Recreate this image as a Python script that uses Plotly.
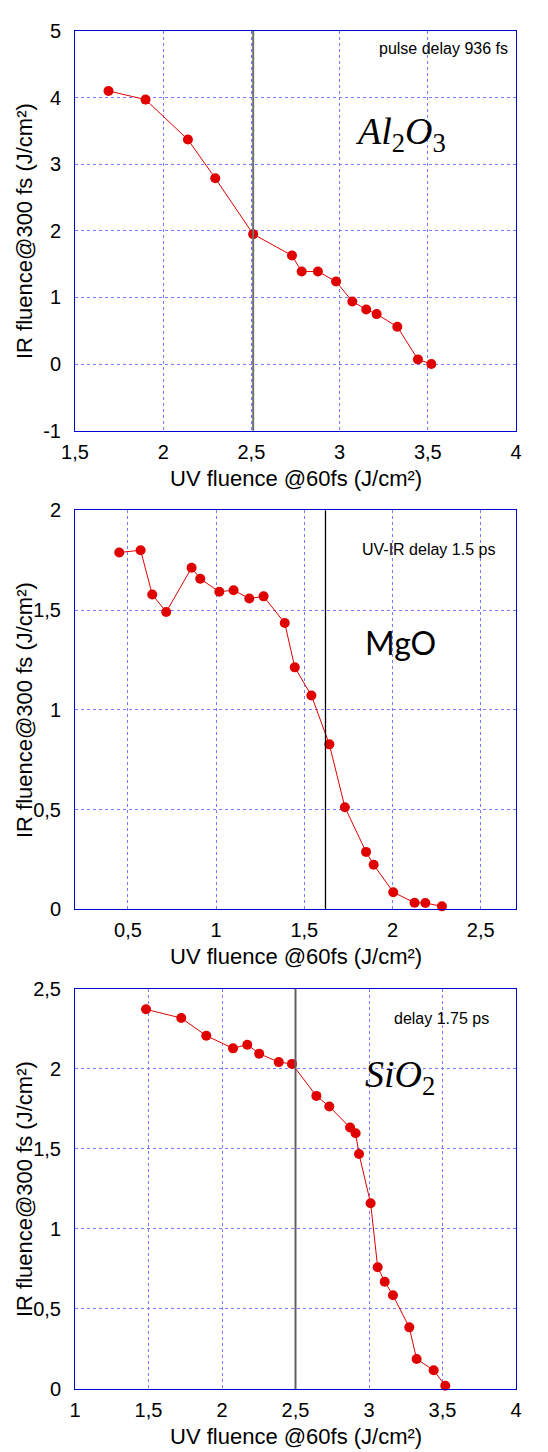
import plotly.graph_objects as go
from plotly.subplots import make_subplots

# Al2O3, pulse delay 936 fs
al_uv = [1.69, 1.90, 2.14, 2.295, 2.51, 2.73, 2.785, 2.877, 2.98, 3.072, 3.151, 3.21, 3.327, 3.444, 3.52]
al_ir = [4.10, 3.97, 3.37, 2.79, 1.95, 1.63, 1.39, 1.39, 1.24, 0.94, 0.82, 0.75, 0.56, 0.07, 0.0]

# MgO, UV-IR delay 1.5 ps
mg_uv = [0.451, 0.572, 0.638, 0.717, 0.861, 0.910, 1.018, 1.099, 1.188, 1.269, 1.389, 1.446, 1.540, 1.642,
         1.730, 1.850, 1.893, 2.004, 2.125, 2.186, 2.28]
mg_ir = [1.789, 1.80, 1.578, 1.491, 1.712, 1.657, 1.592, 1.60, 1.558, 1.569, 1.435, 1.213, 1.072, 0.827,
         0.512, 0.288, 0.224, 0.086, 0.033, 0.032, 0.015]

# SiO2, delay 1.75 ps
si_uv = [1.483, 1.723, 1.893, 2.075, 2.172, 2.253, 2.386, 2.476, 2.642, 2.73, 2.871, 2.909, 2.932, 3.011,
         3.059, 3.107, 3.163, 3.274, 3.324, 3.44, 3.519]
si_ir = [2.372, 2.317, 2.207, 2.128, 2.151, 2.095, 2.042, 2.031, 1.831, 1.765, 1.633, 1.598, 1.468, 1.16,
         0.761, 0.670, 0.586, 0.385, 0.187, 0.117, 0.02]

# threshold markers (vertical lines)
thresholds = [2.51, 1.62, 2.5]

# panel texts
delays = ["pulse delay 936 fs", "UV-IR delay 1.5 ps", "delay 1.75 ps"]
materials = ["<i>Al</i><sub>2</sub><i>O</i><sub>3</sub>", "MgO", "<i>SiO</i><sub>2</sub>"]

# y tick labels of the first panel (plain hyphen minus)
al_yticks = [-1, 0, 1, 2, 3, 4, 5]
al_yticktext = ["-1", "0", "1", "2", "3", "4", "5"]

x_title = "UV fluence @60fs (J/cm²)"
y_title = "IR fluence@300 fs (J/cm²)"

red = "#e00000"
blue = "#0000d0"
grid = "#7a7aff"

fig = make_subplots(rows=3, cols=1)

for i, (xs, ys) in enumerate([(al_uv, al_ir), (mg_uv, mg_ir), (si_uv, si_ir)]):
    fig.add_trace(go.Scatter(x=xs, y=ys, mode="lines+markers",
                             line=dict(color=red, width=1),
                             marker=dict(color=red, size=10),
                             cliponaxis=False, showlegend=False),
                  row=i + 1, col=1)

axis_common = dict(showline=True, mirror=True, linecolor=blue, linewidth=1,
                   showgrid=True, gridcolor=grid, griddash="dot", gridwidth=1,
                   zeroline=False, ticks="",
                   tickfont=dict(family="Arial, Liberation Sans", size=20, color="black"))
xax = dict(ticklabelstandoff=3, **axis_common)
yax = dict(ticklabelstandoff=9, **axis_common)

fig.update_layout(
    xaxis=dict(domain=[0, 1], range=[1.5, 4], dtick=0.5, **xax),
    yaxis=dict(domain=[0.7057, 1], range=[-1, 5], tickvals=al_yticks, ticktext=al_yticktext, **yax),
    xaxis2=dict(domain=[0, 1], range=[0.2, 2.7], dtick=0.5, tick0=0, **xax),
    yaxis2=dict(domain=[0.3532, 0.647], range=[0, 2], dtick=0.5, **yax),
    xaxis3=dict(domain=[0, 1], range=[1, 4], dtick=0.5, **xax),
    yaxis3=dict(domain=[0, 0.2947], range=[0, 2.5], dtick=0.5, **yax),
)

line_styles = [dict(color="#707070", width=2), dict(color="black", width=1.3), dict(color="#606060", width=2)]
delay_pos = [(0.986, 0.956), (0.957, 0.901), (0.943, 0.926)]
mat_pos = [(0.737, 0.742), (0.737, 0.668), (0.737, 0.779)]
mat_fonts = [dict(family="Liberation Serif, DejaVu Serif", size=38, color="black"),
             dict(family="Lato, Noto Sans", size=32, color="black"),
             dict(family="Liberation Serif, DejaVu Serif", size=38, color="black")]

for i in range(3):
    xr = "x" if i == 0 else f"x{i + 1}"
    yr = "y" if i == 0 else f"y{i + 1}"
    fig.add_shape(type="line", x0=thresholds[i], x1=thresholds[i], y0=0, y1=1,
                  xref=xr, yref=f"{yr} domain", line=line_styles[i], layer="above")
    fig.add_annotation(text=delays[i], x=delay_pos[i][0], y=delay_pos[i][1],
                       xref=f"{xr} domain", yref=f"{yr} domain", xanchor="right", yanchor="middle",
                       showarrow=False, font=dict(family="Arial, Liberation Sans", size=16, color="black"))
    fig.add_annotation(text=materials[i], x=mat_pos[i][0], y=mat_pos[i][1],
                       xref=f"{xr} domain", yref=f"{yr} domain", xanchor="center", yanchor="middle",
                       showarrow=False, font=mat_fonts[i])
    # axis titles
    fig.add_annotation(text=x_title, x=0.5, y=-0.119, xref=f"{xr} domain", yref=f"{yr} domain",
                       xanchor="center", yanchor="middle", showarrow=False,
                       font=dict(family="Arial, Liberation Sans", size=22, color="black"))
    fig.add_annotation(text=y_title, x=-0.113, y=0.5, xref=f"{xr} domain", yref=f"{yr} domain",
                       xanchor="center", yanchor="middle", textangle=-90, showarrow=False,
                       font=dict(family="Arial, Liberation Sans", size=22, color="black"))

# the page body adds an 8 px margin, so the figure is shifted by 8 px
fig.update_layout(
    width=532, height=1444,
    margin=dict(l=67, r=24, t=12, b=62.7),
    plot_bgcolor="white", paper_bgcolor="white",
    separators=",.",
)

fig.write_html("out.html")
